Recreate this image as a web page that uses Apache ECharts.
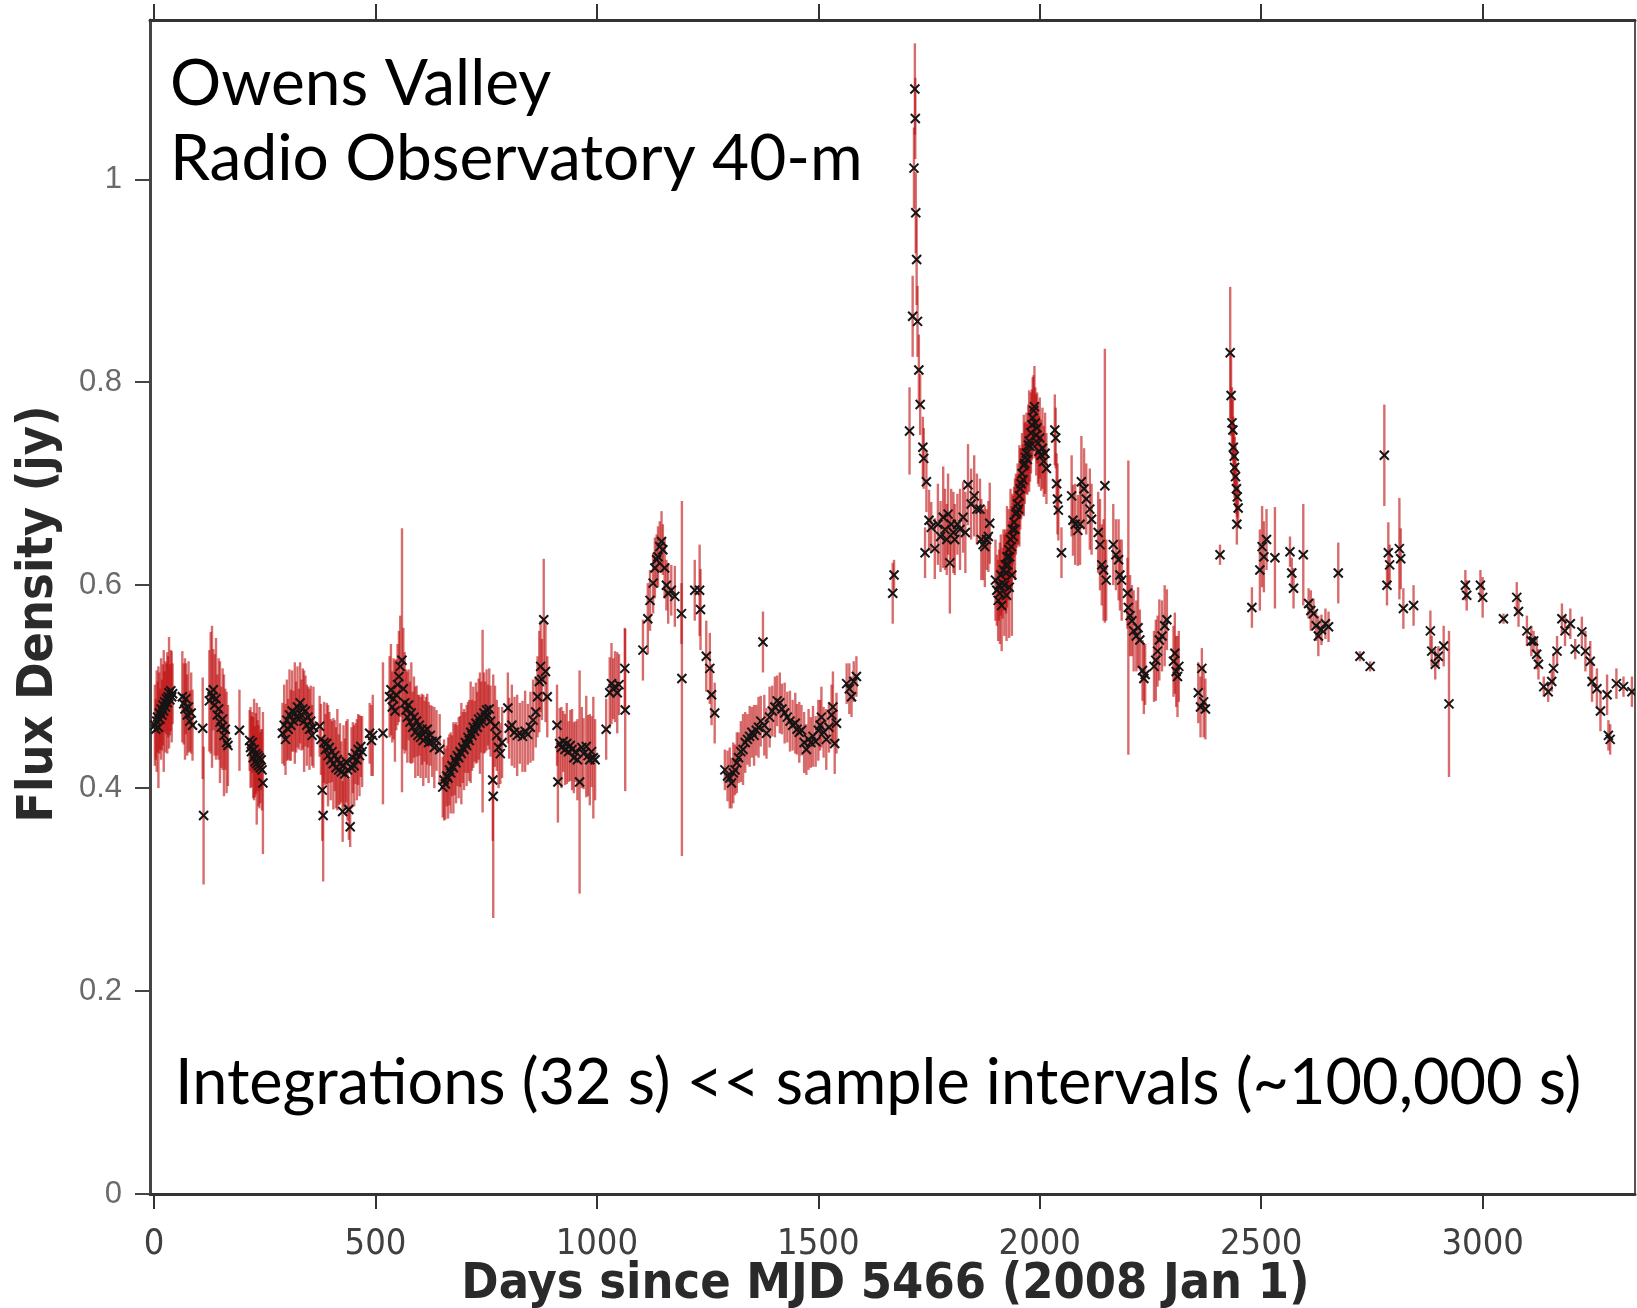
<!DOCTYPE html>
<html>
<head>
<meta charset="utf-8">
<title>Owens Valley Radio Observatory 40-m light curve</title>
<script src="https://cdn.jsdelivr.net/npm/echarts@6/dist/echarts.min.js"></script>
<style>
  html, body { margin: 0; padding: 0; background: #ffffff; }
  #chart { width: 1637px; height: 1308px; }
</style>
</head>
<body>
<div id="chart"></div>
<script>
// Observation epochs (days since MJD 5466 / 2008 Jan 1)
const days = [
  2,4,6,8,10,12,14,16,18,20,22,24,26,28,30,32,34,36,38,40,42,
  64,67,70,72,75,78,81,84,87,
  110,112,
  125,128,131,134,137,140,143,146,149,152,155,158,161,164,167,
  193,
  216,218,220,222,224,226,228,230,232,234,236,238,240,242,244,246,
  290,294,297,300,303,306,309,312,315,318,321,324,327,330,333,336,339,342,345,348,351,354,357,360,
  374,377,380,382,384,387,390,393,396,399,402,405,408,411,414,417,420,423,426,428,431,434,437,440,443,446,449,452,455,458,461,464,467,470,
  487,491,494,517,
  532,535,538,541,544,547,550,553,556,560,563,566,569,572,575,578,581,584,587,590,593,596,599,602,605,608,611,614,617,620,624,628,633,638,645,
  652,655,658,661,664,667,670,673,676,679,682,685,688,691,694,697,700,703,706,709,712,715,718,721,724,727,730,733,736,739,742,745,748,751,754,757,760,765,766,770,774,778,782,786,
  799,802,808,814,820,826,832,838,844,850,856,862,866,870,873,876,880,884,888,
  910,912,916,920,924,928,932,936,940,944,948,952,956,961,966,970,976,980,984,988,992,996,
  1021,1029,1033,1037,1041,1046,1050,1063,1064,
  1104,1115,1120,1127,1131,1135,1138,1142,1146,1149,1153,1157,1161,1168,1176,
  1191,1192,1221,1232,1234,1247,1255,1259,1266,
  1289,1295,1300,1304,1308,1312,1316,1320,1325,1330,1335,1340,1345,1350,1355,1360,1365,1370,1375,1378,1383,1390,1396,1402,1407,1413,1418,1424,1430,1436,1442,1448,1452,1457,1462,1468,1473,1478,1483,1488,1494,1500,1504,1507,1512,1518,1524,1530,1533,1537,1541,
  1564,1570,1575,1580,1586,
  1668,1671,
  1706,1713,1716,1718,1719,1720,1722,1724,1727,1730,1736,1738,1741,1744,1750,1755,
  1763,1770,1776,1782,1786,1790,1793,1797,1800,1805,1808,1814,1820,1827,1832,1838,1845,1852,1858,1865,1868,1872,1876,1880,1884,1887,
  1900,1903,1906,1908,1910,1912,1914,1916,1918,1920,1922,1924,1925,1926,1928,1930,1931,1932,1934,1936,1937,1938,1940,1942,1944,1946,1948,1950,1952,1954,1956,1958,1960,1962,1964,1966,1968,1970,1972,1974,1976,1978,1980,1982,1984,1986,1988,1990,1992,1994,1996,1998,2000,2003,2006,2009,2012,2015,
  2034,2036,2038,2040,2042,2049,2072,2075,2080,2086,2091,2094,2100,2105,2113,2117,2132,2136,2140,2144,2147,2150,2166,2172,2178,2181,2185,2198,2200,2204,2208,2212,2218,2222,2226,2232,2235,2238,
  2258,2262,2266,2270,2276,2282,2287,2302,2305,2308,2311,2314,
  2358,2363,2366,2370,2374,
  2407,
  2430,2432,2434,2436,2437,2439,2440,2442,2444,2445,2446,2448,
  2479,2497,2502,2506,2512,2531,2565,2569,2573,2595,2607,2612,2618,2624,2629,2636,2645,2652,2674,
  2723,2746,2778,2784,2787,2790,2812,2815,2821,2844,2882,2885,2893,2900,2912,2924,
  2961,2964,2995,3000,3047,3077,3081,3100,3110,3115,3122,3126,3138,3148,3156,3160,3168,3179,3186,3198,3209,3224,3232,3243,3247,3258,3266,3281,3284,3288,3302,3318,3337
];

// Flux density (Jy) at each epoch
const flux = [
  0.462,0.458,0.466,0.470,0.460,0.474,0.468,0.478,0.472,0.482,0.476,0.485,0.480,0.488,0.484,0.490,0.494,0.487,0.496,0.490,0.493,
  0.490,0.483,0.478,0.488,0.472,0.480,0.466,0.474,0.462,
  0.459,0.373,
  0.486,0.494,0.490,0.497,0.482,0.488,0.472,0.478,0.465,0.460,0.468,0.452,0.458,0.445,0.442,
  0.457,
  0.447,0.440,0.436,0.445,0.430,0.438,0.426,0.434,0.424,0.432,0.422,0.430,0.420,0.428,0.418,0.405,
  0.454,0.462,0.448,0.467,0.458,0.472,0.462,0.476,0.466,0.474,0.470,0.480,0.468,0.484,0.472,0.478,0.466,0.476,0.462,0.470,0.458,0.466,0.452,0.460,
  0.461,0.448,0.398,0.373,0.445,0.438,0.444,0.432,0.440,0.428,0.436,0.424,0.432,0.420,0.428,0.418,0.424,0.416,0.377,0.422,0.414,0.426,0.418,0.379,0.362,0.420,0.430,0.422,0.434,0.428,0.438,0.432,0.441,0.436,
  0.454,0.447,0.452,0.454,
  0.490,0.497,0.480,0.488,0.476,0.492,0.502,0.510,0.520,0.526,0.498,0.484,0.477,0.470,0.482,0.465,0.474,0.460,0.470,0.455,0.466,0.452,0.462,0.450,0.458,0.447,0.456,0.450,0.458,0.445,0.452,0.446,0.440,0.447,0.438,
  0.401,0.408,0.404,0.412,0.410,0.418,0.415,0.422,0.420,0.428,0.425,0.432,0.430,0.436,0.434,0.440,0.438,0.445,0.442,0.450,0.447,0.455,0.452,0.460,0.456,0.464,0.460,0.468,0.464,0.470,0.466,0.474,0.470,0.477,0.472,0.478,0.466,0.408,0.392,0.461,0.452,0.440,0.434,0.445,
  0.479,0.459,0.462,0.455,0.452,0.454,0.451,0.456,0.453,0.460,0.467,0.475,0.490,0.505,0.520,0.507,0.566,0.515,0.490,
  0.462,0.406,0.444,0.440,0.446,0.438,0.444,0.436,0.442,0.438,0.430,0.436,0.428,0.406,0.440,0.434,0.441,0.432,0.428,0.436,0.430,0.428,
  0.458,0.494,0.503,0.498,0.500,0.494,0.502,0.518,0.477,
  0.536,0.567,0.585,0.602,0.617,0.625,0.628,0.638,0.643,0.635,0.617,0.600,0.592,0.595,0.589,
  0.572,0.508,0.595,0.595,0.576,0.530,0.518,0.492,0.474,
  0.418,0.412,0.410,0.405,0.415,0.418,0.425,0.430,0.436,0.438,0.445,0.448,0.451,0.455,0.452,0.457,0.460,0.466,0.544,0.462,0.454,0.470,0.476,0.480,0.486,0.484,0.478,0.474,0.470,0.466,0.462,0.464,0.458,0.455,0.457,0.445,0.438,0.448,0.445,0.451,0.446,0.457,0.462,0.470,0.455,0.448,0.460,0.472,0.480,0.444,0.464,
  0.503,0.498,0.490,0.505,0.510,
  0.592,0.610,
  0.752,0.865,1.011,1.089,1.060,0.967,0.921,0.860,0.812,0.778,0.736,0.725,0.632,0.702,0.664,0.657,
  0.636,0.660,0.648,0.667,0.655,0.645,0.670,0.622,0.660,0.652,0.645,0.660,0.655,0.667,0.652,0.699,0.680,0.688,0.675,0.675,0.645,0.640,0.638,0.645,0.648,0.661,
  0.605,0.595,0.585,0.600,0.592,0.610,0.580,0.602,0.615,0.600,0.620,0.612,0.590,0.628,0.620,0.635,0.598,0.628,0.645,0.638,0.610,0.655,0.648,0.662,0.655,0.670,0.672,0.680,0.675,0.688,0.695,0.700,0.710,0.704,0.718,0.720,0.726,0.730,0.724,0.738,0.742,0.737,0.750,0.758,0.765,0.772,0.776,0.760,0.748,0.755,0.740,0.732,0.745,0.728,0.735,0.722,0.730,0.715,
  0.753,0.745,0.700,0.685,0.674,0.632,0.688,0.664,0.660,0.654,0.660,0.702,0.695,0.685,0.675,0.665,0.652,0.640,0.620,0.615,0.698,0.605,0.640,0.630,0.625,0.610,0.605,0.592,0.578,0.570,0.565,0.555,0.550,0.558,0.546,0.516,0.508,0.512,
  0.520,0.526,0.535,0.546,0.550,0.560,0.566,0.525,0.533,0.515,0.510,0.520,
  0.494,0.480,0.518,0.485,0.478,
  0.630,
  0.829,0.787,0.760,0.753,0.736,0.727,0.716,0.707,0.695,0.660,0.687,0.676,
  0.578,0.615,0.638,0.628,0.645,0.627,0.633,0.612,0.597,0.630,0.582,0.575,0.572,0.560,0.550,0.556,0.562,0.559,0.612,
  0.530,0.520,0.728,0.600,0.632,0.620,0.636,0.626,0.577,0.580,0.555,0.535,0.522,0.530,0.540,0.483,
  0.600,0.590,0.600,0.588,0.567,0.588,0.574,0.555,0.545,0.545,0.532,0.522,0.500,0.495,0.505,0.518,0.535,0.567,0.555,0.562,0.537,0.554,0.535,0.525,0.505,0.498,0.476,0.492,0.452,0.448,0.503,0.500,0.495
];

// One-sigma uncertainty (Jy) for each measurement
const fluxErr = [
  0.040,0.030,0.050,0.035,0.060,0.040,0.030,0.050,0.035,0.040,0.060,0.030,0.045,0.035,0.050,0.040,0.055,0.035,0.040,0.045,0.030,
  0.045,0.040,0.050,0.035,0.040,0.045,0.030,0.040,0.035,
  0.050,0.068,
  0.050,0.060,0.070,0.040,0.050,0.060,0.040,0.050,0.060,0.040,0.050,0.060,0.040,0.050,0.040,
  0.040,
  0.030,0.040,0.035,0.030,0.040,0.050,0.035,0.040,0.060,0.035,0.040,0.050,0.035,0.030,0.040,0.070,
  0.030,0.040,0.035,0.040,0.030,0.045,0.035,0.040,0.030,0.050,0.035,0.040,0.030,0.040,0.035,0.040,0.050,0.035,0.040,0.030,0.040,0.035,0.030,0.040,
  0.030,0.035,0.050,0.065,0.040,0.035,0.040,0.050,0.035,0.040,0.030,0.045,0.035,0.040,0.050,0.035,0.040,0.030,0.030,0.040,0.035,0.040,0.050,0.030,0.020,0.040,0.035,0.040,0.030,0.040,0.035,0.040,0.030,0.035,
  0.030,0.035,0.040,0.070,
  0.040,0.045,0.035,0.040,0.050,0.035,0.040,0.045,0.050,0.130,0.060,0.050,0.040,0.045,0.035,0.040,0.050,0.035,0.040,0.045,0.035,0.040,0.030,0.040,0.035,0.045,0.030,0.040,0.035,0.040,0.030,0.035,0.040,0.030,0.035,
  0.030,0.040,0.035,0.030,0.040,0.035,0.040,0.030,0.045,0.035,0.040,0.030,0.040,0.035,0.050,0.035,0.040,0.030,0.040,0.035,0.040,0.050,0.035,0.040,0.030,0.040,0.035,0.040,0.050,0.035,0.090,0.040,0.035,0.040,0.030,0.040,0.035,0.060,0.120,0.040,0.035,0.040,0.030,0.035,
  0.035,0.030,0.040,0.035,0.040,0.030,0.035,0.040,0.030,0.035,0.040,0.035,0.040,0.050,0.045,0.040,0.060,0.050,0.040,
  0.040,0.040,0.035,0.040,0.030,0.035,0.040,0.030,0.035,0.040,0.035,0.030,0.040,0.110,0.040,0.035,0.050,0.040,0.045,0.035,0.060,0.040,
  0.030,0.035,0.040,0.030,0.035,0.040,0.030,0.040,0.080,
  0.030,0.035,0.030,0.030,0.030,0.025,0.030,0.025,0.030,0.025,0.030,0.025,0.030,0.025,0.030,
  0.030,0.175,0.030,0.045,0.040,0.035,0.035,0.030,0.030,
  0.020,0.025,0.030,0.025,0.030,0.025,0.030,0.025,0.030,0.035,0.030,0.025,0.030,0.025,0.030,0.025,0.030,0.025,0.030,0.030,0.025,0.030,0.025,0.030,0.025,0.030,0.025,0.030,0.025,0.030,0.025,0.030,0.025,0.030,0.025,0.030,0.025,0.030,0.025,0.030,0.025,0.030,0.025,0.030,0.025,0.030,0.025,0.030,0.035,0.030,0.030,
  0.020,0.025,0.020,0.020,0.020,
  0.030,0.015,
  0.043,0.040,0.040,0.045,0.040,0.040,0.045,0.035,0.035,0.030,0.030,0.030,0.025,0.030,0.030,0.025,
  0.030,0.040,0.035,0.050,0.040,0.035,0.040,0.050,0.035,0.040,0.035,0.030,0.040,0.035,0.040,0.040,0.035,0.040,0.035,0.030,0.040,0.035,0.040,0.030,0.035,0.040,
  0.040,0.035,0.040,0.035,0.050,0.040,0.045,0.035,0.040,0.050,0.035,0.040,0.045,0.050,0.035,0.040,0.050,0.035,0.050,0.040,0.060,0.035,0.040,0.035,0.050,0.040,0.035,0.040,0.035,0.050,0.040,0.035,0.040,0.035,0.050,0.040,0.035,0.040,0.035,0.040,0.050,0.035,0.040,0.035,0.040,0.035,0.040,0.035,0.040,0.035,0.040,0.035,0.040,0.035,0.040,0.035,0.040,0.035,
  0.035,0.030,0.030,0.035,0.030,0.025,0.040,0.035,0.040,0.035,0.040,0.045,0.040,0.035,0.040,0.035,0.040,0.045,0.040,0.050,0.135,0.040,0.040,0.035,0.040,0.035,0.040,0.035,0.145,0.040,0.035,0.040,0.035,0.040,0.030,0.030,0.035,0.030,
  0.035,0.040,0.035,0.040,0.035,0.040,0.030,0.035,0.040,0.035,0.040,0.035,
  0.030,0.030,0.020,0.035,0.030,
  0.010,
  0.065,0.040,0.035,0.030,0.030,0.030,0.030,0.030,0.025,0.020,0.020,0.020,
  0.020,0.040,0.040,0.035,0.030,0.050,0.015,0.015,0.020,0.050,0.015,0.020,0.015,0.015,0.020,0.015,0.015,0.015,0.030,
  0.005,0.005,0.050,0.020,0.030,0.020,0.050,0.030,0.020,0.020,0.020,0.015,0.015,0.010,0.020,0.072,
  0.015,0.015,0.015,0.020,0.005,0.015,0.015,0.015,0.015,0.010,0.015,0.015,0.010,0.010,0.010,0.015,0.015,0.015,0.015,0.015,0.010,0.015,0.020,0.020,0.020,0.020,0.020,0.020,0.015,0.015,0.015,0.010,0.015
];

// Axis ticks
const dayTicks = [0, 500, 1000, 1500, 2000, 2500, 3000];
const fluxTicks = [0, 0.2, 0.4, 0.6, 0.8, 1];

// Plot extents
const dayMin = -9, dayMax = 3344;
const fluxMin = 0, fluxMax = 1.157;

const points = days.map((d, i) => [d, flux[i], fluxErr[i]]);

const narrowFont = "'Liberation Sans Narrow', 'DejaVu Sans Condensed', 'Liberation Sans', sans-serif";
const noteFont = "Lato, 'Open Sans', sans-serif";

const chart = echarts.init(document.getElementById('chart'), null, { renderer: 'canvas' });

chart.setOption({
  animation: false,
  backgroundColor: '#ffffff',
  grid: { left: 150, right: 2, top: 20, bottom: 114, containLabel: false, outerBoundsMode: 'none' },
  xAxis: [
    {
      type: 'value', position: 'bottom', min: dayMin, max: dayMax,
      name: 'Days since MJD 5466 (2008 Jan 1)',
      nameLocation: 'middle', nameGap: 66, nameMoveOverlap: false,
      nameTextStyle: { fontFamily: narrowFont, fontWeight: 'bold', fontSize: 50, color: '#2a2a2a', padding: [0, 14, 0, 0] },
      axisLine: { show: true, onZero: false, lineStyle: { color: '#333', width: 3 } },
      axisTick: { show: true, inside: false, length: 15, customValues: dayTicks, lineStyle: { color: '#333', width: 2 } },
      axisLabel: {
        show: true, margin: 33, customValues: dayTicks, fontFamily: narrowFont, fontSize: 36, color: '#404040',
        formatter: v => String(v)
      },
      splitLine: { show: false }
    },
    {
      type: 'value', position: 'top', min: dayMin, max: dayMax,
      axisLine: { show: true, onZero: false, lineStyle: { color: '#333', width: 3 } },
      axisTick: { show: true, inside: false, length: 16, customValues: dayTicks, lineStyle: { color: '#333', width: 2 } },
      axisLabel: { show: false },
      splitLine: { show: false }
    }
  ],
  yAxis: [
    {
      type: 'value', position: 'left', min: fluxMin, max: fluxMax,
      name: 'Flux Density (jy)',
      nameLocation: 'middle', nameGap: 86, nameRotate: 90, nameMoveOverlap: false,
      nameTextStyle: { fontFamily: narrowFont, fontWeight: 'bold', fontSize: 50, color: '#2a2a2a', padding: [0, 14, 0, 0] },
      axisLine: { show: true, onZero: false, lineStyle: { color: '#444', width: 3 } },
      axisTick: { show: true, inside: false, length: 15, customValues: fluxTicks, lineStyle: { color: '#444', width: 2 } },
      axisLabel: {
        show: true, margin: 28, customValues: fluxTicks,
        fontFamily: "'Liberation Sans', Arial, sans-serif", fontSize: 31, color: '#6a6a6a',
        formatter: v => String(Math.round(v * 10) / 10)
      },
      splitLine: { show: false }
    },
    {
      type: 'value', position: 'right', min: fluxMin, max: fluxMax,
      axisLine: { show: true, onZero: false, lineStyle: { color: '#555', width: 2 } },
      axisTick: { show: false }, axisLabel: { show: false }, splitLine: { show: false }
    }
  ],
  series: [
    {
      // vertical error bars
      type: 'custom', name: 'error', data: points, clip: true, silent: true, z: 2,
      encode: { x: 0, y: 1 },
      renderItem: (params, api) => {
        const d = api.value(0), f = api.value(1), e = api.value(2);
        const hi = api.coord([d, f + e]);
        const lo = api.coord([d, f - e]);
        return {
          type: 'line',
          shape: { x1: hi[0], y1: hi[1], x2: lo[0], y2: lo[1] },
          style: { stroke: 'rgba(190,10,10,0.6)', lineWidth: 2.4 }
        };
      }
    },
    {
      // measurement markers drawn as small crosses
      type: 'custom', name: 'flux', data: points, clip: true, silent: true, z: 3,
      encode: { x: 0, y: 1 },
      renderItem: (params, api) => {
        const c = api.coord([api.value(0), api.value(1)]);
        const r = 4.5;
        const st = { stroke: '#151515', lineWidth: 2 };
        return {
          type: 'group',
          children: [
            { type: 'line', shape: { x1: c[0] - r, y1: c[1] - r, x2: c[0] + r, y2: c[1] + r }, style: st },
            { type: 'line', shape: { x1: c[0] - r, y1: c[1] + r, x2: c[0] + r, y2: c[1] - r }, style: st }
          ]
        };
      }
    }
  ],
  graphic: [
    {
      type: 'text', left: 170, top: 52, z: 10,
      style: { text: 'Owens Valley', font: '64px ' + noteFont, fill: '#000' }
    },
    {
      type: 'text', left: 170, top: 127, z: 10,
      style: { text: 'Radio Observatory 40-m', font: '64px ' + noteFont, fill: '#000' }
    },
    {
      type: 'text', left: 175, top: 1052, z: 10,
      style: { text: 'Integrations (32 s) << sample intervals (~100,000 s)', font: '63px ' + noteFont, fill: '#000' }
    }
  ]
});
</script>
</body>
</html>
